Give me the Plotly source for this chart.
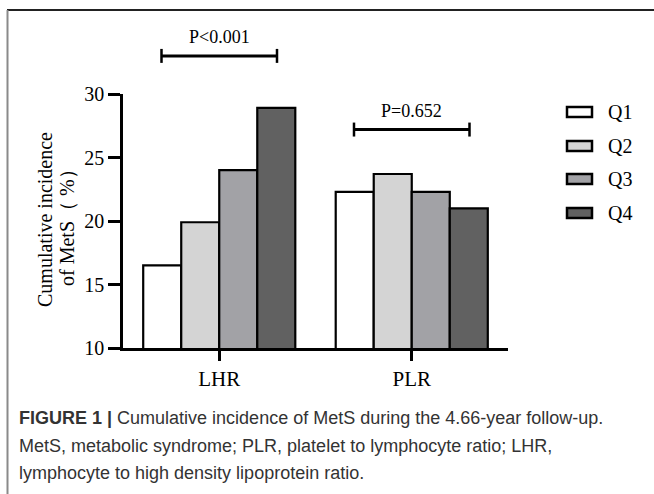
import plotly.graph_objects as go

# ---------------- data ----------------
categories = ["LHR", "PLR"]
quartiles = ["Q1", "Q2", "Q3", "Q4"]
q1_values = [16.5, 22.3]
q2_values = [19.9, 23.7]
q3_values = [24.0, 22.3]
q4_values = [28.9, 21.0]
p_labels = ["P<0.001", "P=0.652"]
p_levels = [33.0, 27.2]          # bracket height in % units
y_ticks = [10, 15, 20, 25, 30]
caption_lines = [
    "<b>FIGURE 1 |</b> Cumulative incidence of MetS during the 4.66-year follow-up.",
    "MetS, metabolic syndrome; PLR, platelet to lymphocyte ratio; LHR,",
    "lymphocyte to high density lipoprotein ratio.",
]

# ---------------- styles ----------------
colors = ["#ffffff", "#d4d4d4", "#a2a2a6", "#616161"]
SERIF = "Liberation Serif, Times New Roman, serif"
SANS = "Liberation Sans, Arial, sans-serif"
W, H = 654, 494
L, R, T, B = 123, 146, 94, 146
PW, PH = W - L - R, H - T - B
Y0, Y1 = 10, 30
X0, X1 = -0.5, 1.5


def px_x(px):
    return (px - L) / PW


def px_y(py):
    return (H - B - py) / PH


def xdom(c):
    return (c - X0) / (X1 - X0)


def ydom(v):
    return (v - Y0) / (Y1 - Y0)


series = [q1_values, q2_values, q3_values, q4_values]
fig = go.Figure()
for name, vals, col in zip(quartiles, series, colors):
    fig.add_trace(go.Bar(
        x=categories, y=vals, name=name,
        marker=dict(color=col, line=dict(color="black", width=2.2)),
        showlegend=False,
    ))

shapes = []
annotations = []

# significance brackets
half = 0.3
tick_h = 0.55
for i, (lab, lev) in enumerate(zip(p_labels, p_levels)):
    xa, xb = xdom(i - half), xdom(i + half)
    yl = ydom(lev)
    dy = ydom(lev + tick_h) - yl
    shapes.append(dict(type="line", xref="x domain", yref="y domain",
                       x0=xa, x1=xb, y0=yl, y1=yl,
                       line=dict(color="black", width=3)))
    for xx in (xa, xb):
        shapes.append(dict(type="line", xref="x domain", yref="y domain",
                           x0=xx, x1=xx, y0=yl - dy, y1=yl + dy,
                           line=dict(color="black", width=2.5)))
    annotations.append(dict(xref="x domain", yref="y domain", x=xdom(i),
                            y=ydom(lev + 1.45), xanchor="center", yanchor="middle",
                            text=lab, showarrow=False,
                            font=dict(family=SERIF, size=18, color="black")))

# manual legend
leg_y = [112, 146, 179, 213]
for name, col, yy in zip(quartiles, colors, leg_y):
    shapes.append(dict(type="rect", xref="paper", yref="paper",
                       x0=px_x(567), x1=px_x(592),
                       y0=px_y(yy + 5), y1=px_y(yy - 5),
                       fillcolor=col, line=dict(color="black", width=2.5)))
    annotations.append(dict(xref="paper", yref="paper", x=px_x(606), y=px_y(yy),
                            xanchor="left", yanchor="middle", text=name,
                            showarrow=False,
                            font=dict(family=SERIF, size=20, color="black")))

# y-axis title (two lines)
annotations.append(dict(xref="paper", yref="paper", x=px_x(45), y=px_y(220),
                        xanchor="center", yanchor="middle", textangle=-90,
                        text="Cumulative incidence", showarrow=False,
                        font=dict(family=SERIF, size=20, color="black")))
annotations.append(dict(xref="paper", yref="paper", x=px_x(67), y=px_y(223),
                        xanchor="center", yanchor="middle", textangle=-90,
                        text="of MetS（ %）", showarrow=False,
                        font=dict(family=SERIF, size=20, color="black")))

# frame lines
shapes.append(dict(type="line", xref="paper", yref="paper",
                   x0=px_x(7), x1=px_x(W + 2), y0=px_y(10), y1=px_y(10),
                   line=dict(color="#222222", width=2)))
shapes.append(dict(type="line", xref="paper", yref="paper",
                   x0=px_x(7.5), x1=px_x(7.5), y0=px_y(10), y1=px_y(H + 2),
                   line=dict(color="#8a8a8a", width=2)))

# caption
cap_y = [418, 446, 473]
for txt, yy in zip(caption_lines, cap_y):
    annotations.append(dict(xref="paper", yref="paper", x=px_x(17), y=px_y(yy),
                            xanchor="left", yanchor="middle", text=txt,
                            showarrow=False,
                            font=dict(family=SANS, size=18, color="#333333")))

fig.update_layout(
    width=W, height=H,
    margin=dict(l=L, r=R, t=T, b=B, pad=0),
    paper_bgcolor="white", plot_bgcolor="white",
    barmode="group", bargap=0.21, bargroupgap=0,
    shapes=shapes, annotations=annotations,
    xaxis=dict(type="category", range=[X0, X1], showgrid=False, zeroline=False,
               showline=True, linecolor="black", linewidth=2.5,
               ticks="outside", ticklen=10, tickwidth=2.5, tickcolor="black",
               tickfont=dict(family=SERIF, size=21, color="black")),
    yaxis=dict(range=[Y0, Y1], tickvals=y_ticks, showgrid=False, zeroline=False,
               showline=True, linecolor="black", linewidth=2.5,
               ticks="outside", ticklen=12, tickwidth=2.5, tickcolor="black",
               tickfont=dict(family=SERIF, size=20, color="black")),
)

fig.write_html(
    "out.html",
    config={"displayModeBar": False},
    post_script="document.body.style.margin='0';document.body.style.overflow='hidden';",
)
